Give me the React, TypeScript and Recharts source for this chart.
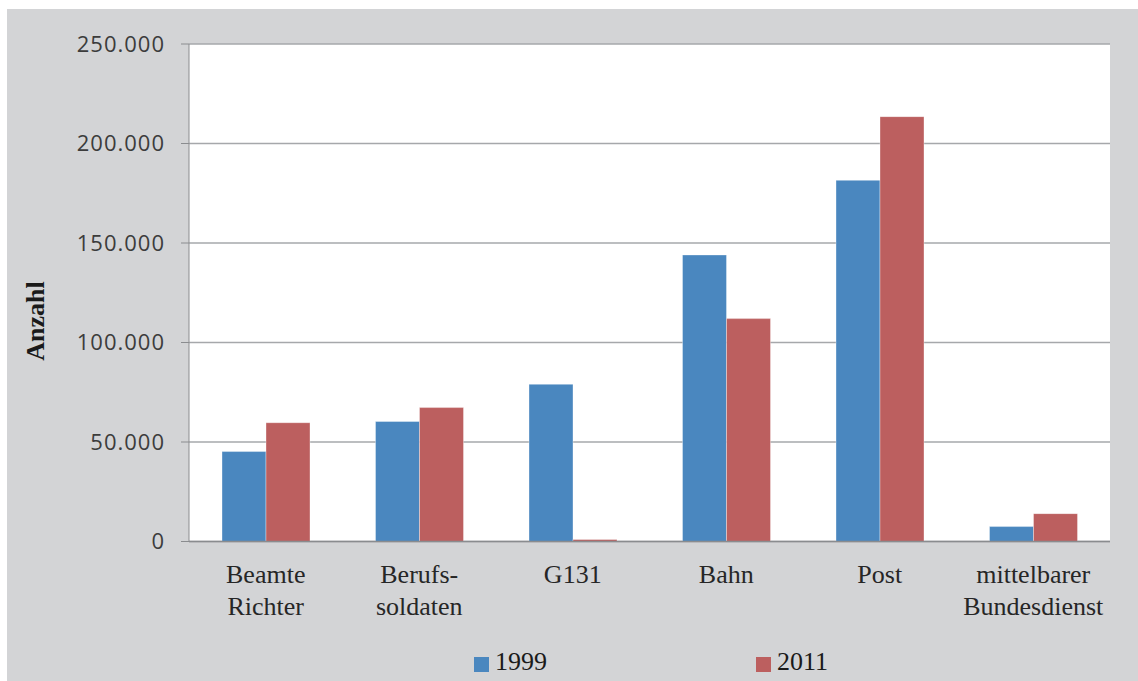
import React from "react";
import { BarChart, Bar, XAxis, YAxis, CartesianGrid } from "recharts";

const CATEGORIES = [
  "Beamte\nRichter",
  "Berufs-\nsoldaten",
  "G131",
  "Bahn",
  "Post",
  "mittelbarer\nBundesdienst",
];
const VALUES_1999 = [45200, 60300, 79000, 144000, 181500, 7500];
const VALUES_2011 = [59700, 67300, 1000, 112000, 213500, 14000];
const Y_TICKS = [0, 50000, 100000, 150000, 200000, 250000];

const SERIES = [
  { key: "y1999", label: "1999", color: "#4a87bf" },
  { key: "y2011", label: "2011", color: "#bc5f5f" },
];

const data = CATEGORIES.map((name, i) => ({
  name,
  y1999: VALUES_1999[i],
  y2011: VALUES_2011[i],
}));

const SERIF = '"Liberation Serif", "Times New Roman", serif';

// 250000 -> "250.000"
const formatThousands = (v: number) =>
  String(v).replace(/\B(?=(\d{3})+(?!\d))/g, ".");

function CategoryTick({ x, y, payload }: any) {
  const lines = String(payload.value).split("\n");
  return (
    <text
      x={x}
      y={y + 41}
      textAnchor="middle"
      fill="#262626"
      fontFamily={SERIF}
      fontSize={26}
    >
      {lines.map((line, i) => (
        <tspan key={i} x={x} dy={i === 0 ? 0 : 32}>
          {line}
        </tspan>
      ))}
    </text>
  );
}

export default function App() {
  return (
    <div
      style={{
        position: "absolute",
        left: 7,
        top: 9,
        width: 1131,
        height: 672,
        background: "#d3d4d6",
      }}
    >
      <BarChart
        width={1131}
        height={672}
        data={data}
        margin={{ top: 35, right: 28, bottom: 39.5, left: 0 }}
        barSize={44}
        barGap={0}
      >
        <CartesianGrid
          vertical={false}
          fill="#ffffff"
          stroke="#a6a8ab"
          strokeWidth={1.5}
        />
        <XAxis
          dataKey="name"
          height={100}
          tickLine={false}
          tickSize={0}
          tickMargin={0}
          interval={0}
          stroke="#8a8c8f"
          strokeWidth={1.5}
          tick={<CategoryTick />}
        />
        <YAxis
          width={182}
          domain={[0, 250000]}
          ticks={Y_TICKS}
          tickFormatter={formatThousands}
          tickSize={8}
          tickMargin={16}
          stroke="#8a8c8f"
          tick={{
            fill: "#3c3c3c",
            fontSize: 22,
            fontFamily: '"Open Sans", sans-serif',
            letterSpacing: 1,
          }}
        />
        {SERIES.map((s) => (
          <Bar
            key={s.key}
            dataKey={s.key}
            name={s.label}
            fill={s.color}
            stroke="#ffffff"
            strokeOpacity={0.35}
            strokeWidth={1}
            isAnimationActive={false}
          />
        ))}
      </BarChart>

      <div
        style={{
          position: "absolute",
          left: 28.5,
          top: 312,
          transform: "translate(-50%, -50%) rotate(-90deg)",
          fontFamily: SERIF,
          fontWeight: "bold",
          fontSize: 26,
          color: "#1a1a1a",
          whiteSpace: "nowrap",
        }}
      >
        Anzahl
      </div>

      {SERIES.map((s, i) => (
        <div
          key={s.key}
          style={{
            position: "absolute",
            left: 467 + i * 282,
            top: 640,
            display: "flex",
            alignItems: "flex-end",
            fontFamily: SERIF,
            fontSize: 26,
            lineHeight: "26px",
            color: "#1a1a1a",
          }}
        >
          <span
            style={{
              display: "inline-block",
              width: 15,
              height: 15,
              background: s.color,
              marginRight: 6,
              marginBottom: 3,
            }}
          />
          {s.label}
        </div>
      ))}
    </div>
  );
}
